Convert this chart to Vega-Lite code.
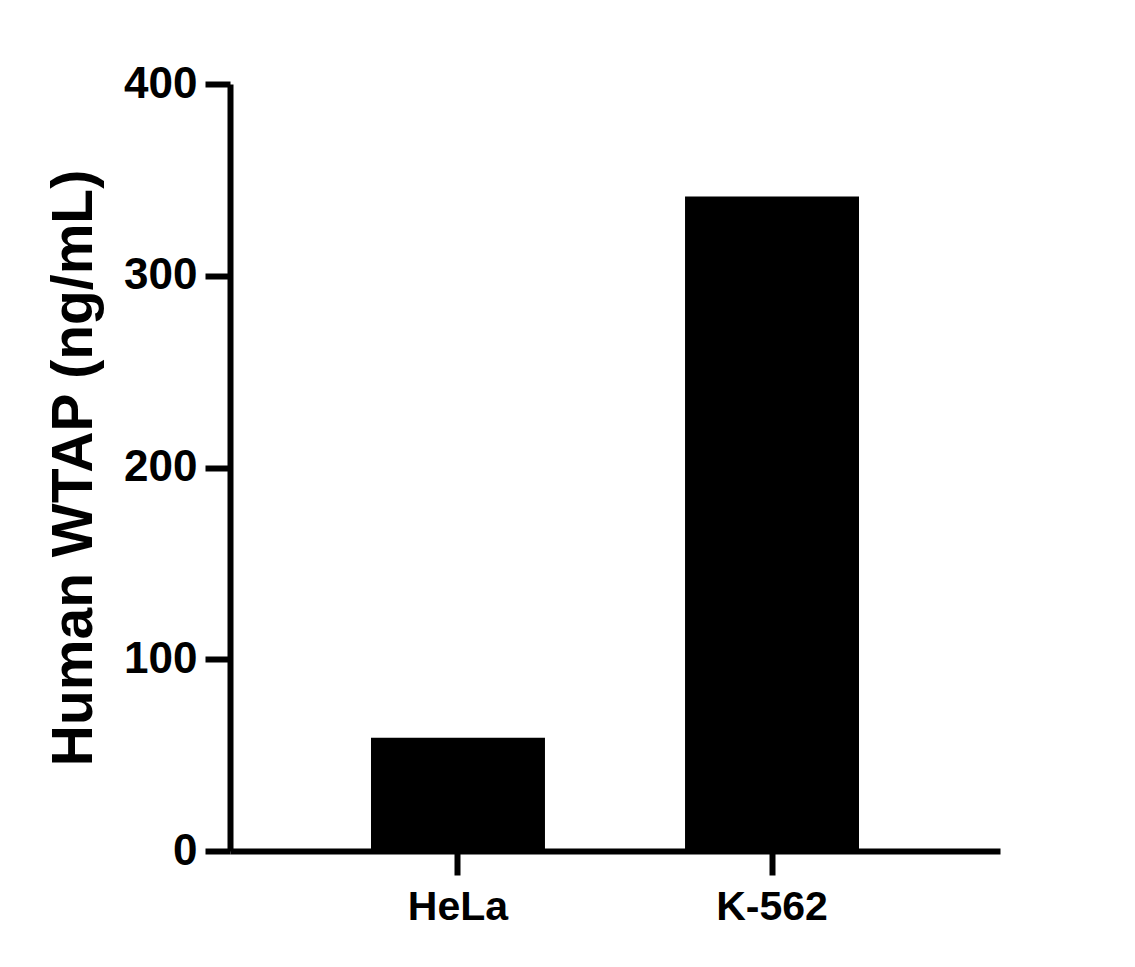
{
  "$schema": "https://vega.github.io/schema/vega-lite/v6.json",
  "width": 770,
  "height": 767,
  "autosize": {"type": "none"},
  "padding": {"left": 230, "top": 84, "right": 135, "bottom": 116},
  "background": "white",
  "data": {
    "values": [
      {"cell": "HeLa", "wtap": 59},
      {"cell": "K-562", "wtap": 341.3}
    ]
  },
  "mark": {"type": "bar", "color": "black"},
  "encoding": {
    "x": {
      "field": "cell",
      "type": "nominal",
      "sort": null,
      "scale": {"paddingInner": 0.446, "paddingOuter": 0.449},
      "axis": {
        "title": null,
        "labelAngle": 0,
        "labelPadding": 12,
        "labelFontSize": 41,
        "tickSize": 24
      }
    },
    "y": {
      "field": "wtap",
      "type": "quantitative",
      "scale": {"domain": [0, 400], "nice": false},
      "axis": {
        "title": "Human WTAP (ng/mL)",
        "values": [0, 100, 200, 300, 400],
        "grid": false,
        "tickSize": 25,
        "labelPadding": 8,
        "labelFontSize": 44,
        "titleFontSize": 57,
        "titlePadding": 20
      }
    }
  },
  "config": {
    "font": "Liberation Sans",
    "view": {"stroke": null},
    "axis": {
      "domainColor": "black",
      "domainWidth": 6,
      "tickColor": "black",
      "tickWidth": 6,
      "labelColor": "black",
      "labelFont": "Liberation Sans",
      "labelFontWeight": "bold",
      "titleColor": "black",
      "titleFont": "Liberation Sans",
      "titleFontWeight": "bold"
    }
  }
}
